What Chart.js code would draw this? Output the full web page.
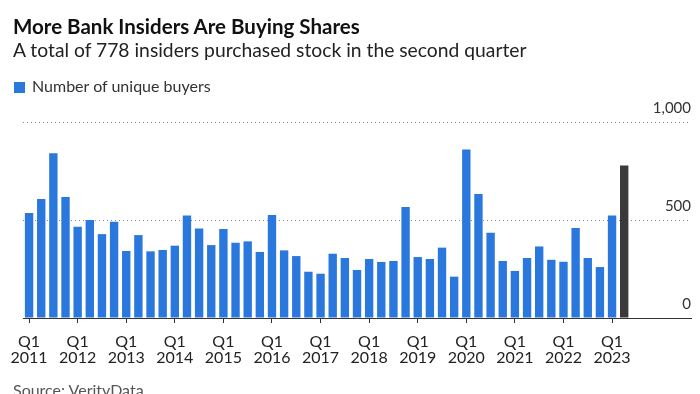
<!DOCTYPE html>
<html>
<head>
<meta charset="utf-8">
<script src="https://cdn.jsdelivr.net/npm/chart.js@4"></script>
<style>
  body { margin: 0; width: 700px; height: 394px; overflow: hidden; background: #fff; font-family: Lato, sans-serif; }
  #wrap { position: relative; width: 700px; height: 394px; }
  canvas { position: absolute; left: 0; top: 0; }
  .title { position: absolute; left: 13px; top: 14px; font-size: 20.5px; font-weight: 700; color: #111; white-space: nowrap; }
  .subtitle { position: absolute; left: 13px; top: 38px; font-size: 19.3px; color: #222; white-space: nowrap; }
  .legend { position: absolute; left: 14px; top: 76px; font-size: 16px; color: #333; white-space: nowrap; }
  .legend span { display: inline-block; width: 11px; height: 11px; background: #2a78de; margin-right: 7px; vertical-align: -1px; }
  .source { position: absolute; left: 13px; top: 380px; font-size: 16px; color: #555; white-space: nowrap; }
</style>
</head>
<body>
<div id="wrap">
  <canvas id="myChart" width="700" height="394"></canvas>
  <div class="title">More Bank Insiders Are Buying Shares</div>
  <div class="subtitle">A total of 778 insiders purchased stock in the second quarter</div>
  <div class="legend"><span></span>Number of unique buyers</div>
  <div class="source">Source: VerityData</div>
</div>
<script>
const firstYear = 2011;
const buyers = [536, 607, 840, 617, 466, 500, 428, 491, 342, 423,
  340, 347, 369, 523, 457, 372, 454, 384, 391, 337,
  525, 345, 316, 236, 226, 328, 306, 245, 301, 286,
  291, 566, 311, 301, 359, 211, 860, 633, 435, 291,
  240, 306, 365, 297, 287, 459, 306, 260, 523, 778];
const yTicks = [0, 500, 1000];

const quarters = buyers.map((v, i) => `Q${(i % 4) + 1} ${firstYear + Math.floor(i / 4)}`);
// empty slots at the right, the reference leaves room after the last bar
const labels = quarters.concat(['', '', '', '', '']);
const colors = buyers.map((v, i) => (i === buyers.length - 1 ? '#3a3a3a' : '#2a78de'));

const ctx = document.getElementById('myChart').getContext('2d');
window.myChart = new Chart(ctx, {
  type: 'bar',
  data: {
    labels,
    datasets: [
      {
        label: 'Number of unique buyers',
        data: buyers,
        backgroundColor: colors,
        categoryPercentage: 1,
        barPercentage: 0.69,
      },
    ],
  },
  options: {
    responsive: false,
    animation: false,
    layout: { padding: { top: 122, left: 23, right: 9, bottom: 26 } },
    plugins: { legend: { display: false }, tooltip: { enabled: false } },
    scales: {
      x: {
        grid: { display: true, drawOnChartArea: false, offset: false, tickLength: 5, color: '#333' },
        border: { display: true, color: '#333', width: 1 },
        ticks: {
          autoSkip: false,
          maxRotation: 0,
          padding: 10,
          color: '#222',
          font: { family: 'Lato', size: 16, lineHeight: 1.05 },
          callback: (value, i) => {
            if (i >= quarters.length || i % 4 !== 0) return null;
            return quarters[i].split(' ');
          },
        },
        afterFit: (scale) => {
          scale.height = 50;
        },
      },
      y: {
        position: 'right',
        min: 0,
        max: 1000,
        afterBuildTicks: (scale) => {
          scale.ticks = yTicks.map((v) => ({ value: v }));
        },
        grid: {
          drawTicks: false,
          color: (c) => (c.tick && c.tick.value === 0 ? 'rgba(0,0,0,0)' : '#8a8a8a'),
          lineWidth: 1,
        },
        border: { display: false, dash: [1, 3] },
        ticks: {
          mirror: true,
          padding: 0,
          labelOffset: -14,
          color: '#333',
          font: { family: 'Lato', size: 15 },
          callback: (v) => v.toLocaleString('en-US'),
        },
        afterFit: (scale) => {
          scale.width = 0;
        },
      },
    },
  },
});
</script>
</body>
</html>
